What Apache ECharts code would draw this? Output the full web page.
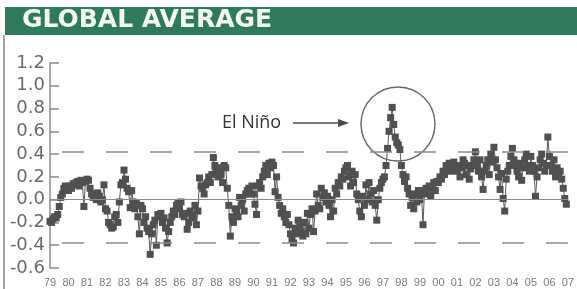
<!DOCTYPE html>
<html>
<head>
<meta charset="utf-8">
<script src="https://cdn.jsdelivr.net/npm/echarts@6/dist/echarts.min.js"></script>
<style>
  html, body { margin: 0; padding: 0; background: #ffffff; }
  #chart { width: 577px; height: 289px; }
</style>
</head>
<body>
<div id="chart"></div>
<script>
// Monthly global temperature anomaly (Jan 1979 onwards)
const startYear = 1979;
const anom1979to1988 = [
  -0.19, -0.2, -0.17, -0.15, -0.16, -0.13, -0.06, 0.02, 0.05, 0.1, 0.12, 0.1,
  0.08, 0.12, 0.1, 0.14, 0.13, 0.15, 0.16, 0.12, 0.17, 0.15, -0.06, 0.16,
  0.18, 0.17, 0.1, 0.05, 0.02, 0.04, 0.0, 0.06, 0.03, -0.02, 0.0, 0.13,
  -0.08, -0.1, -0.2, -0.22, -0.25, -0.24, -0.15, -0.13, -0.2, -0.02, 0.13, 0.15,
  0.26, 0.18, 0.1, 0.07, -0.07, 0.08, -0.02, -0.08, -0.03, -0.15, -0.3, -0.05,
  -0.08, -0.2, -0.15, -0.25, -0.28, -0.48, -0.3, -0.22, -0.18, -0.4, -0.13, -0.15,
  -0.12, -0.2, -0.16, -0.25, -0.38, -0.28, -0.2, -0.15, -0.1, -0.13, -0.05, -0.03,
  -0.08, -0.02, -0.13, -0.15, -0.12, -0.26, -0.2, -0.1, -0.14, -0.16, -0.05, -0.22,
  -0.1, 0.19, 0.12, 0.1, 0.05, 0.13, 0.15, 0.2, 0.15, 0.22, 0.37, 0.3,
  0.25, 0.2, 0.28, 0.22, 0.15, 0.3, 0.28, 0.1, -0.05, -0.32, -0.15, -0.2
];
const anom1989to1998 = [
  -0.08, -0.1, -0.15, 0.02, -0.05, 0.0, -0.1, 0.05, 0.08, 0.1, 0.05, 0.12,
  0.05, -0.04, -0.13, 0.12, 0.15, 0.1, 0.2, 0.25, 0.3, 0.22, 0.32, 0.28,
  0.33, 0.3, 0.07, 0.2, 0.02, -0.05, -0.12, -0.08, -0.15, -0.2, -0.13, -0.22,
  -0.3, -0.35, -0.38, -0.25, -0.3, -0.18, -0.22, -0.28, -0.32, -0.2, -0.3, -0.12,
  -0.25, -0.13, -0.08, -0.28, -0.1, 0.05, -0.05, -0.08, 0.1, 0.02, 0.06, -0.02,
  0.03, -0.05, -0.15, 0.0, -0.1, 0.1, 0.05, 0.15, 0.12, 0.2, 0.18, 0.25,
  0.28, 0.3, 0.2, 0.12, 0.25, 0.15, 0.22, 0.05, 0.0, -0.1, -0.15, 0.03,
  -0.05, 0.13, 0.0, 0.15, 0.05, -0.02, 0.08, -0.05, -0.18, 0.0, 0.1, 0.15,
  0.18, 0.2, 0.3, 0.45, 0.6, 0.72, 0.81, 0.66, 0.55, 0.5, 0.48, 0.44,
  0.3, 0.22, 0.16, 0.2, 0.1, 0.05, -0.05, 0.02, -0.08, 0.05, -0.02, 0.08
];
const anom1999to2006 = [
  0.0, 0.05, -0.22, 0.08, 0.1, 0.05, 0.12, 0.03, 0.1, 0.15, 0.08, 0.16,
  0.15, 0.2, 0.18, 0.25, 0.22, 0.3, 0.28, 0.32, 0.25, 0.3, 0.33, 0.28,
  0.25, 0.3, 0.2, 0.28, 0.35, 0.32, 0.22, 0.3, 0.18, 0.27, 0.3, 0.35,
  0.42, 0.3, 0.25, 0.35, 0.2, 0.09, 0.25, 0.3, 0.35, 0.22, 0.4, 0.33,
  0.46, 0.35, 0.28, 0.2, 0.09, 0.23, 0.01, -0.1, 0.18, 0.25, 0.3, 0.38,
  0.45, 0.35, 0.3, 0.25, 0.2, 0.32, 0.17, 0.28, 0.35, 0.4, 0.3, 0.25,
  0.38, 0.3, 0.25, 0.03, 0.2, 0.28, 0.35, 0.4, 0.32, 0.25, 0.3, 0.55,
  0.38, 0.3, 0.25, 0.35, 0.2, 0.28, 0.22, 0.25, 0.18, 0.1, 0.01, -0.04
];
const yearLabels = ['79', '80', '81', '82', '83', '84', '85', '86', '87', '88', '89', '90', '91', '92',
  '93', '94', '95', '96', '97', '98', '99', '00', '01', '02', '03', '04', '05', '06', '07'];
const yTicks = [-0.6, -0.4, -0.2, 0.0, 0.2, 0.4, 0.6, 0.8, 1.0, 1.2];
const upperBand = 0.42;
const lowerBand = -0.38;

const monthly = anom1979to1988.concat(anom1989to1998, anom1999to2006);
const points = monthly.map((v, i) => [startYear + i / 12, v]);

const chart = echarts.init(document.getElementById('chart'), null, { renderer: 'canvas' });

const option = {
  backgroundColor: '#ffffff',
  animation: false,
  grid: { left: 50, right: 7, top: 63, bottom: 21 },
  xAxis: {
    type: 'value',
    min: startYear,
    max: startYear + yearLabels.length - 1,
    interval: 1,
    axisLine: { show: false },
    axisTick: { show: false },
    splitLine: { show: false },
    axisLabel: {
      margin: 9,
      color: '#7a7a7a',
      fontSize: 11,
      fontFamily: '"Liberation Sans Narrow", "Liberation Sans", sans-serif',
      formatter: v => yearLabels[Math.round(v - startYear)]
    }
  },
  yAxis: {
    type: 'value',
    min: yTicks[0],
    max: yTicks[yTicks.length - 1],
    interval: 0.2,
    axisLine: { show: true, lineStyle: { color: '#8a8a8a', width: 1.5 } },
    axisTick: { show: true, inside: true, length: 9, lineStyle: { color: '#8a8a8a', width: 1.5 } },
    splitLine: { show: false },
    axisLabel: {
      margin: 5,
      color: '#6a6a6a',
      fontSize: 18,
      fontFamily: '"DejaVu Sans", sans-serif',
      formatter: v => v.toFixed(1)
    }
  },
  series: [
    {
      type: 'line',
      data: points,
      symbol: 'rect',
      symbolSize: 7,
      showAllSymbol: true,
      itemStyle: { color: '#505050' },
      lineStyle: { color: '#5a5a5a', width: 1 },
      z: 3,
      markLine: {
        silent: true,
        symbol: 'none',
        label: { show: false },
        data: [
          { yAxis: 0, lineStyle: { type: 'solid', color: '#8c8c8c', width: 1.2 } },
          { yAxis: upperBand, lineStyle: { type: [22, 22], dashOffset: 32, color: '#8c8c8c', width: 1.5 } },
          { yAxis: lowerBand, lineStyle: { type: [22, 22], dashOffset: 32, color: '#8c8c8c', width: 1.5 } }
        ]
      }
    }
  ],
  graphic: [
    {
      type: 'rect',
      left: 5, top: 7,
      shape: { width: 572, height: 28 },
      style: { fill: '#2f7a5c' }
    },
    {
      type: 'text',
      left: 22, top: 8,
      style: {
        text: 'GLOBAL AVERAGE',
        fill: '#f4f7f2',
        font: 'bold 25px "DejaVu Sans", sans-serif'
      }
    },
    {
      type: 'line',
      shape: { x1: 4, y1: 35, x2: 4, y2: 289 },
      style: { stroke: '#97a3bb', lineWidth: 2 }
    },
    {
      type: 'text',
      x: 222, y: 123,
      style: {
        text: 'El Niño',
        fill: '#333333',
        font: '18px "Open Sans", sans-serif',
        textVerticalAlign: 'middle'
      }
    },
    {
      type: 'line',
      shape: { x1: 293, y1: 123, x2: 346, y2: 123 },
      style: { stroke: '#4a4a4a', lineWidth: 1.5 }
    },
    {
      type: 'polygon',
      shape: { points: [[349, 123], [338, 119], [338, 127]] },
      style: { fill: '#4a4a4a' }
    },
    {
      type: 'circle',
      shape: { cx: 398, cy: 124, r: 37 },
      style: { fill: 'none', stroke: '#6a6a6a', lineWidth: 1.5 }
    }
  ]
};

chart.setOption(option);
</script>
</body>
</html>
